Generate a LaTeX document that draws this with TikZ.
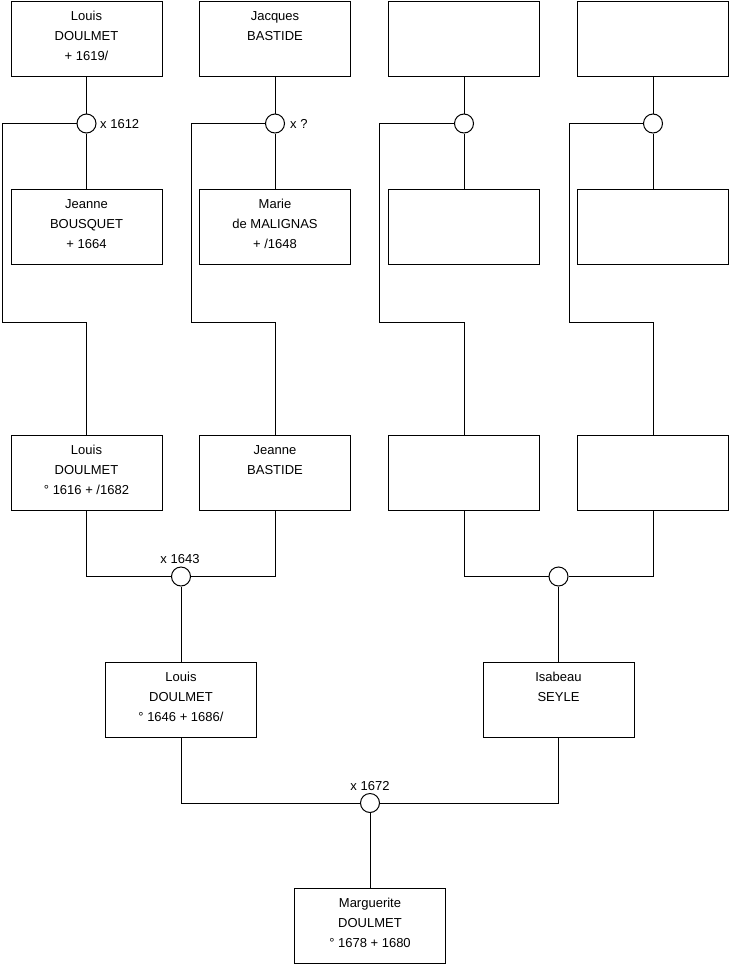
\documentclass[tikz,border=0pt]{standalone}
\usepackage{fontspec}
\setmainfont{Liberation Sans}
\newcommand\pers[3]{\vbox to 75pt{\hsize=151pt\parindent=0pt\centering
  \fontsize{13}{20}\selectfont\vskip 5pt
  \strut#1\\ \strut#2\\ \strut#3\par\vfil}}
\begin{document}
\begin{tikzpicture}[x=1pt,y=-1pt,
  pbox/.style={draw,rectangle,inner sep=0pt,minimum width=151pt,minimum height=75pt,line width=1pt},
  marr/.style={draw,circle,inner sep=0pt,minimum size=19pt,fill=white,line width=1pt},
  mlab/.style={inner sep=0pt,font=\fontsize{13}{15}\selectfont},
  conn/.style={line width=1pt}]
\useasboundingbox (0,0) rectangle (740,975);
% row 1
\node[pbox] (a1) at (86.5,38.5) {\pers{Louis}{DOULMET}{+ 1619/}};
\node[pbox] (a2) at (275,38.5) {\pers{Jacques}{BASTIDE}{}};
\node[pbox] (a3) at (464,38.5) {\pers{}{}{}};
\node[pbox] (a4) at (653,38.5) {\pers{}{}{}};
% row 2
\node[pbox] (b1) at (86.5,227) {\pers{Jeanne}{BOUSQUET}{+ 1664}};
\node[pbox] (b2) at (275,227) {\pers{Marie}{de MALIGNAS}{+ /1648}};
\node[pbox] (b3) at (464,227) {\pers{}{}{}};
\node[pbox] (b4) at (653,227) {\pers{}{}{}};
% row 3
\node[pbox] (c1) at (86.5,473) {\pers{Louis}{DOULMET}{° 1616 + /1682}};
\node[pbox] (c2) at (275,473) {\pers{Jeanne}{BASTIDE}{}};
\node[pbox] (c3) at (464,473) {\pers{}{}{}};
\node[pbox] (c4) at (653,473) {\pers{}{}{}};
% row 4
\node[pbox] (d1) at (181,699.5) {\pers{Louis}{DOULMET}{° 1646 + 1686/}};
\node[pbox] (d2) at (558.5,699.5) {\pers{Isabeau}{SEYLE}{}};
% row 5
\node[pbox] (e) at (370,925.5) {\pers{Marguerite}{DOULMET}{° 1678 + 1680}};
% marriage circles
\node[marr] (m1) at (86.5,123.5) {};
\node[marr] (m2) at (275,123.5) {};
\node[marr] (m3) at (464,123.5) {};
\node[marr] (m4) at (653,123.5) {};
\node[marr] (m5) at (181,576.5) {};
\node[marr] (m6) at (558.5,576.5) {};
\node[marr] (m7) at (370,803) {};
% labels
\node[mlab,anchor=west] (l1) at (100,124) {x 1612};
\node[mlab,anchor=west] (l2) at (290,124) {x ?};
\node[mlab,anchor=base] (l5) at (180,563) {x 1643};
\node[mlab,anchor=base] (l7) at (370,790) {x 1672};
% bend coordinates
\coordinate (k1) at (2,322);
\coordinate (k2) at (191,322);
\coordinate (k3) at (379,322);
\coordinate (k4) at (569,322);
% connectors
\foreach \i in {1,2,3,4}{
  \draw[conn] (a\i.south) -- (m\i.north);
  \draw[conn] (m\i.south) -- (b\i.north);
  \draw[conn] (m\i.west) -| (k\i) -| (c\i.north);
}
\draw[conn] (c1.south) |- (m5.west);
\draw[conn] (c2.south) |- (m5.east);
\draw[conn] (m5.south) -- (d1.north);
\draw[conn] (c3.south) |- (m6.west);
\draw[conn] (c4.south) |- (m6.east);
\draw[conn] (m6.south) -- (d2.north);
\draw[conn] (d1.south) |- (m7.west);
\draw[conn] (d2.south) |- (m7.east);
\draw[conn] (m7.south) -- (e.north);
\end{tikzpicture}
\end{document}
